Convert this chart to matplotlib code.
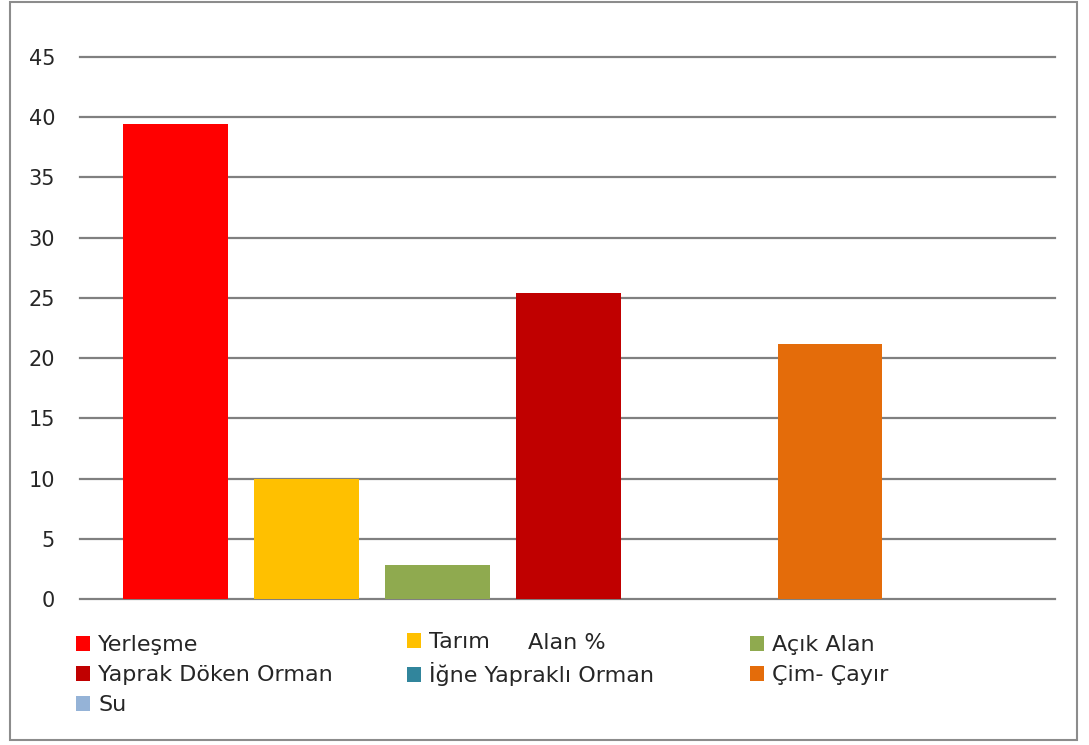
import matplotlib.pyplot as plt
from matplotlib.patches import Rectangle

plt.rcParams['font.family'] = ['DejaVu Sans']

categories = ['Yerleşme', 'Tarım', 'Açık Alan', 'Yaprak Döken Orman',
              'İğne Yapraklı Orman', 'Çim- Çayır', 'Su']
values = [39.4, 10.0, 2.8, 25.4, 0.0, 21.2, 0.0]
colors = ['#ff0000', '#ffc000', '#8faa4f', '#c00000', '#31859c', '#e46c0a', '#95b3d7']
yticks = [0, 5, 10, 15, 20, 25, 30, 35, 40, 45]

W, H = 1089, 745
fig = plt.figure(figsize=(W / 100, H / 100), dpi=100)
ax = fig.add_axes([80 / W, 1 - 599 / H, (1055 - 80) / W, (599 - 57) / H])

bars = []
for i, (c, v, col) in enumerate(zip(categories, values, colors)):
    b = ax.bar(i, v, width=0.8, color=col, label=c, zorder=3)
    bars.append(b)

ax.set_xlim(-0.73, 6.72)
ax.set_ylim(0, 45)
ax.set_yticks(yticks)
ax.set_xticks([])
ax.yaxis.grid(True, color='#808080', linewidth=1.6, zorder=0)
for gl in ax.yaxis.get_gridlines():
    gl.set_clip_on(False)
ax.tick_params(axis='y', length=0, pad=18, labelsize=15, labelcolor='#262626')
for s in ax.spines.values():
    s.set_visible(False)

# legend: three columns, filled row by row like the original
columns = [[0, 3, 6], [1, 4], [2, 5]]
col_x = [76, 407, 750]
col_top = [635, 632, 635]
for idx, x, top in zip(columns, col_x, col_top):
    leg = fig.legend([bars[i] for i in idx], [categories[i] for i in idx],
                     loc='upper left', bbox_to_anchor=(x / W, 1 - top / H),
                     frameon=False, fontsize=16, handlelength=0.65, handleheight=0.65,
                     handletextpad=0.35, labelspacing=0.45, labelcolor='#262626',
                     borderpad=0, borderaxespad=0)

fig.text(528 / W, 1 - 643 / H, 'Alan %', fontsize=16, va='center', color='#262626')

fig.patches.append(Rectangle((10 / W, 1 - 740 / H), (1077 - 10) / W, 738 / H,
                             transform=fig.transFigure, fill=False,
                             edgecolor='#8c8c8c', linewidth=1.5))

fig.savefig('out.png', dpi=100)
